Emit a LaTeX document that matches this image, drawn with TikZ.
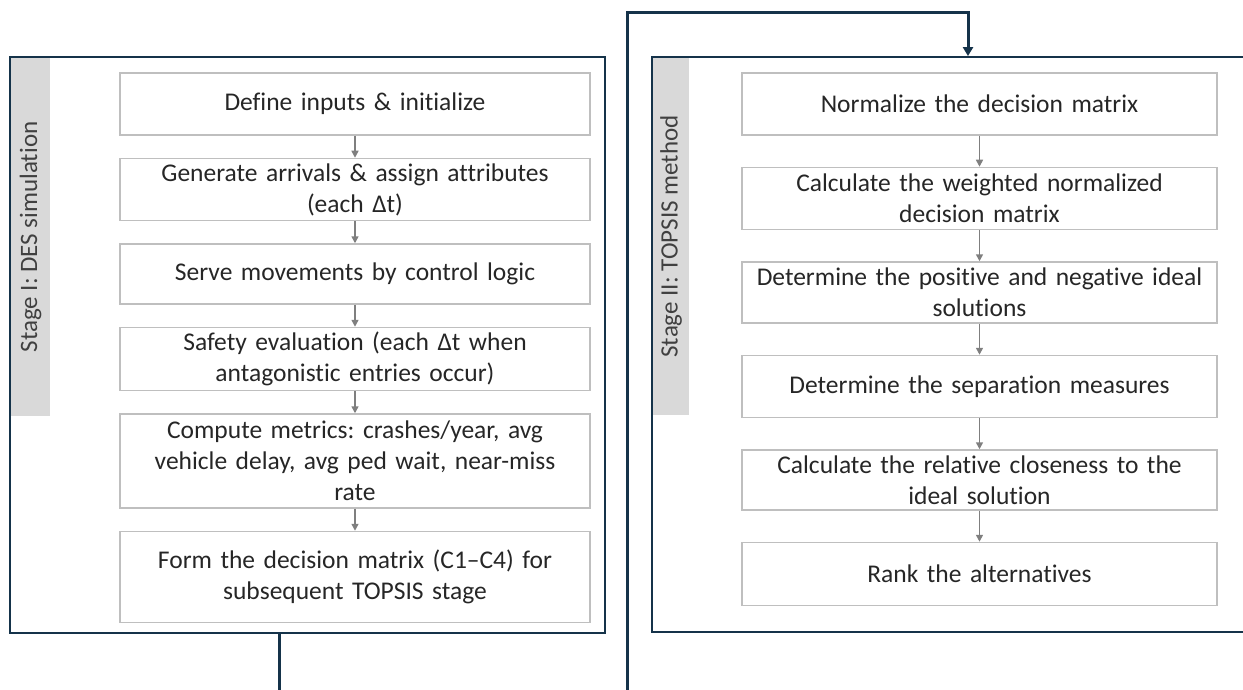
\documentclass[tikz,border=0pt]{standalone}
\usepackage{fontspec}
\setmainfont{Carlito}[Ligatures=NoCommon]
\frenchspacing
\usetikzlibrary{arrows.meta,positioning}
\definecolor{bleunuit}{HTML}{15334A}
\definecolor{grisbord}{HTML}{BFBFBF}
\definecolor{grisfleche}{HTML}{7F7F7F}
\definecolor{grisbande}{HTML}{D9D9D9}

\begin{document}
\begin{tikzpicture}[x=1pt,y=-1pt]
%styles : cadres des étapes, boîtes et flèches
\tikzset{cadre/.style={draw=bleunuit,line width=1.8pt,inner sep=0pt},
bande/.style={fill=grisbande,rotate=90,inner sep=0pt,text=black!75,font=\fontsize{25}{30}\selectfont},
etape/.style={draw=grisbord,line width=1.5pt,inner sep=0pt,align=center,text=black!85,font=\fontsize{25.5}{31}\selectfont},
gauche/.style={etape,minimum width=470pt,text width=462pt},
droite/.style={etape,minimum width=475pt,text width=468pt},
fleche/.style={grisfleche,line width=1.5pt,-{Triangle[length=7pt,width=7pt]}},
lien/.style={bleunuit,line width=3pt}}
\useasboundingbox (0,0) rectangle (1243,690);

%les deux cadres
\node[cadre,minimum width=595pt,minimum height=576pt] (cadreI) at (307.5,345) {};
\node[cadre,minimum width=610pt,minimum height=575pt] (cadreII) at (957,344.5) {};
\node[bande,minimum width=358pt,minimum height=39pt] (bandeI) at (30.5,237) {Stage I: DES simulation};
\node[bande,minimum width=357pt,minimum height=36pt] (bandeII) at (671,236.5) {Stage II: TOPSIS method};

%étape I
\node[gauche,minimum height=62pt] (g1) at (355,104) {Define inputs \& initialize};
\node[gauche,minimum height=62pt,below=22pt of g1] (g2) {Generate arrivals \& assign attributes\\(each Δt)};
\node[gauche,minimum height=60pt,below=22pt of g2] (g3) {Serve movements by control logic};
\node[gauche,minimum height=63pt,below=22pt of g3] (g4) {Safety evaluation (each Δt when\\antagonistic entries occur)};
\node[gauche,minimum height=94pt,below=22pt of g4] (g5) {Compute metrics: crashes/year, avg\\vehicle delay, avg ped wait, near-miss\\rate};
\node[gauche,minimum height=91pt,below=22pt of g5] (g6) {Form the decision matrix (C1–C4) for\\subsequent TOPSIS stage};

%étape II
\node[droite,minimum height=62pt] (d1) at (979.5,104) {Normalize the decision matrix};
\node[droite,minimum height=62pt,below=31pt of d1] (d2) {Calculate the weighted normalized\\decision matrix};
\node[droite,minimum height=61pt,below=31pt of d2] (d3) {Determine the positive and negative ideal\\solutions};
\node[droite,minimum height=62pt,below=31pt of d3] (d4) {Determine the separation measures};
\node[droite,minimum height=60pt,below=31pt of d4] (d5) {Calculate the relative closeness to the\\ideal solution};
\node[droite,minimum height=63pt,below=31pt of d5] (d6) {Rank the alternatives};

\foreach \a/\b in {g1/g2,g2/g3,g3/g4,g4/g5,g5/g6,d1/d2,d2/d3,d3/d4,d4/d5,d5/d6}
  \draw[fleche] (\a.south) -- (\b.north);

%liaison entre les deux étapes
\coordinate (finI) at (279,700);
\coordinate (debII) at (627,700);
\coordinate (coude) at (627,13);
\coordinate (haut) at (968,13);
\draw[lien] (finI |- cadreI.south) -- (finI);
\draw[lien,-{Triangle[length=9pt,width=10pt]}] (debII) -- (coude) -- (haut) -- (haut |- cadreII.north);
\end{tikzpicture}
\end{document}
